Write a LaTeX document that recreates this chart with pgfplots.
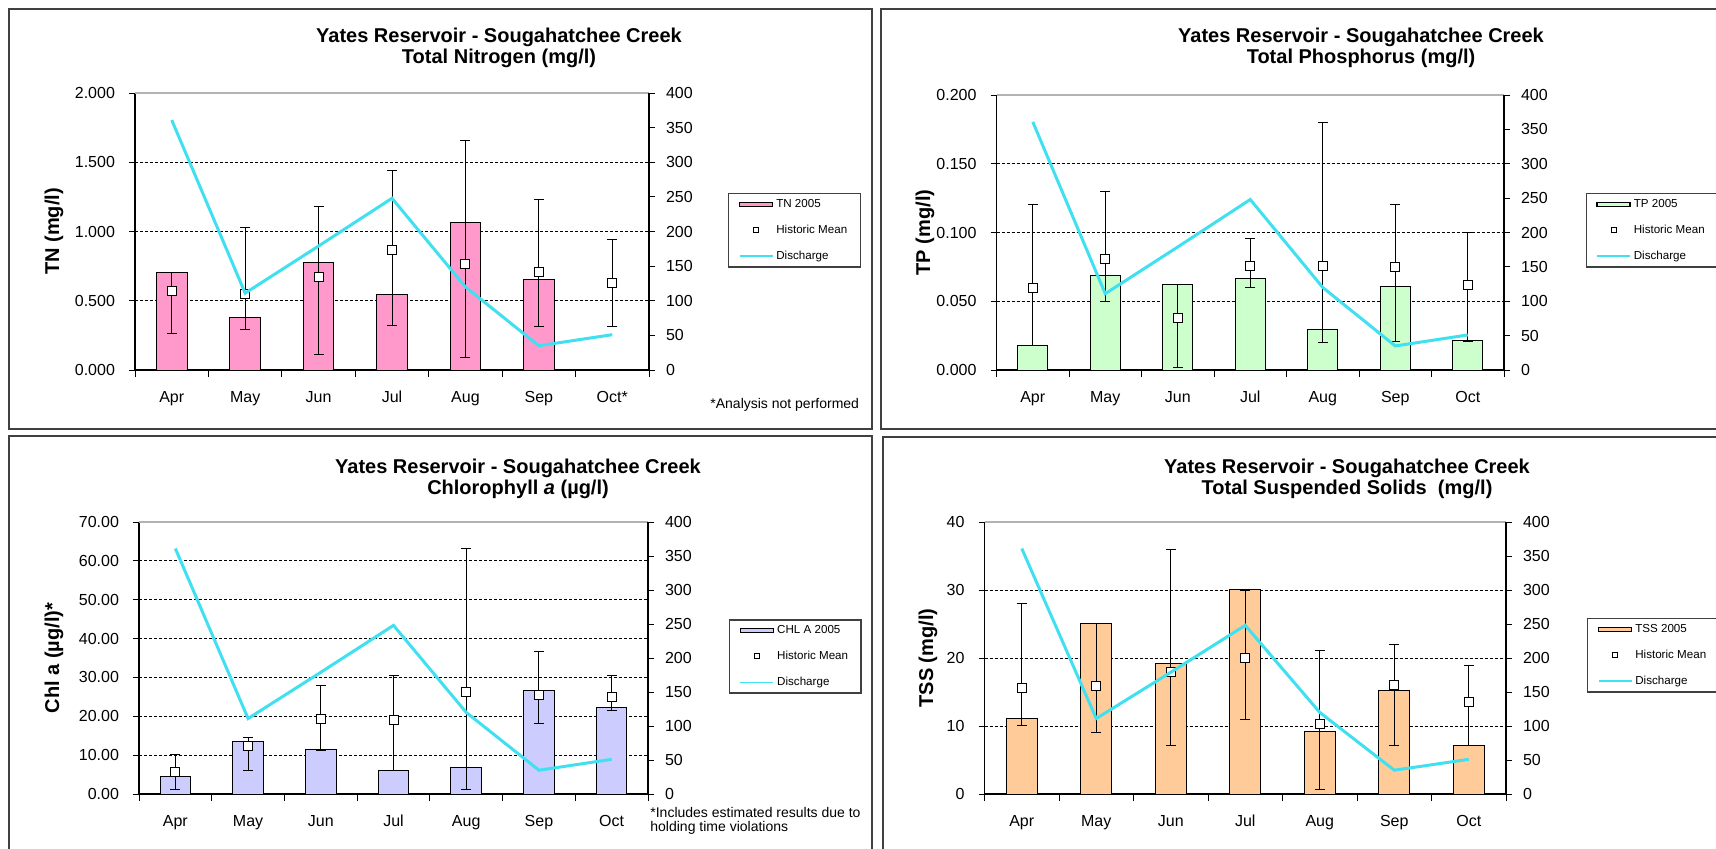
\documentclass[border=0pt]{standalone}
\usepackage{fontspec}
\setmainfont{Liberation Sans}
\usepackage{pgfplots}
\usepackage{pgfplotstable}
\pgfplotsset{compat=1.18}
\definecolor{tnc}{HTML}{FF99CC}
\definecolor{tpc}{HTML}{CCFFCC}
\definecolor{chc}{HTML}{CCCCFF}
\definecolor{tsc}{HTML}{FFCC99}
\definecolor{qc}{HTML}{40E0F0}
\definecolor{framec}{HTML}{404040}

% discharge (right axis), same for all panels
\pgfplotstableread{
x q
0 361
1 111
2 179
3 248
4 120
5 35
6 51
}\dis

% TN
\pgfplotstableread{
x v
0 0.706
1 0.376
2 0.773
3 0.547
4 1.065
5 0.651
}\tnbar
\pgfplotstableread{
x mean lo hi
0 0.569 0.265 0.706
1 0.549 0.292 1.026
2 0.672 0.113 1.178
3 0.867 0.318 1.441
4 0.769 0.092 1.658
5 0.711 0.311 1.234
6 0.631 0.311 0.942
}\tnmean

% TP
\pgfplotstableread{
x v
0 0.0179
1 0.0690
2 0.0623
3 0.0664
4 0.0293
5 0.0606
6 0.0216
}\tpbar
\pgfplotstableread{
x mean lo hi
0 0.0596 0.0179 0.1205
1 0.0810 0.0500 0.1297
2 0.0380 0.0017 0.0620
3 0.0760 0.0600 0.0958
4 0.0760 0.0200 0.1800
5 0.0750 0.0208 0.1205
6 0.0618 0.0210 0.0999
}\tpmean

% Chl a
\pgfplotstableread{
x v
0 4.45
1 13.43
2 11.38
3 6.08
4 6.76
5 26.53
6 22.16
}\chbar
\pgfplotstableread{
x mean lo hi
0 5.65 1.10 10.10
1 12.24 6.08 14.55
2 19.42 11.20 27.90
3 19.17 6.08 30.46
4 26.27 1.10 63.15
5 25.41 18.06 36.60
6 24.90 21.56 30.46
}\chmean

% TSS
\pgfplotstableread{
x v
0 11.10
1 25.10
2 19.20
3 30.07
4 9.24
5 15.16
6 7.14
}\tsbar
\pgfplotstableread{
x mean lo hi
0 15.65 10.02 27.97
1 15.94 9.05 25.10
2 17.90 7.09 36.00
3 20.00 10.90 30.00
4 10.27 0.64 21.10
5 16.00 7.09 22.05
6 13.50 7.14 18.97
}\tsmean

\pgfplotsset{
  leftax/.style={
    scale only axis, xmin=-0.5, xmax=6.5, ymin=0,
    axis x line*=bottom, axis y line*=left,
    xtick={0,...,6}, xticklabels={Apr,May,Jun,Jul,Aug,Sep,Oct},
    major x tick style={draw=none},
    minor xtick={-0.5,0.5,1.5,2.5,3.5,4.5,5.5,6.5},
    minor x tick style={black, line width=0.5pt},
    minor tick length=3.5pt, major tick length=3pt,
    tick align=outside,
    ymajorgrids, grid style={dash pattern=on 1.5pt off 1pt, black, line width=0.5pt},
    y tick style={black, line width=0.5pt},
    axis line style={black, line width=0.6pt},
    tick label style={font=\fontsize{8}{9.6}\selectfont},
    xticklabel style={yshift=-4pt},
    yticklabel style={xshift=-3.5pt},
    ylabel style={font=\bfseries\fontsize{10}{12}\selectfont, anchor=center},
    scaled y ticks=false,
    /pgf/number format/assume math mode=true,
    clip=false,
  },
  rightax/.style={
    scale only axis, xmin=-0.5, xmax=6.5, ymin=0, ymax=400,
    axis y line*=right, axis x line=none,
    ytick={0,50,100,150,200,250,300,350,400},
    tick align=outside, major tick length=3pt,
    y tick style={black, line width=0.5pt},
    axis line style={black, line width=0.6pt},
    tick label style={font=\fontsize{8}{9.6}\selectfont},
    yticklabel style={xshift=2pt},
    /pgf/number format/assume math mode=true,
    clip=false,
    legend cell align=left,
    legend style={anchor=north west, draw=framec, line width=0.7pt, fill=white,
      font=\fontsize{5.8}{7}\selectfont, inner xsep=5pt, inner ysep=2.6pt, row sep=7.45pt,
      nodes={inner ysep=0pt, inner xsep=1.5pt, text height=4.3pt, text depth=1.2pt}},
  },
  barst/.style={ybar, bar width=0.42, bar shift=0pt, draw=black, line width=0.5pt},
  errst/.style={only marks, mark=none,
    error bars/.cd, y dir=both, y explicit,
    error bar style={black, line width=0.5pt},
    error mark options={rotate=90, black, mark size=2.5pt, line width=0.5pt}},
  meanst/.style={only marks, mark=square*, mark size=2.25pt,
    mark options={fill=white, draw=black, line width=0.5pt}},
  qst/.style={qc, line width=1.5pt, mark=none,
    legend image code/.code={\draw[qc, line width=0.8pt] (0pt,0pt) -- (16.5pt,0pt);}},
}

\newcommand{\legbar}[1]{\addlegendimage{legend image code/.code={\draw[fill=#1, draw=black, line width=0.6pt] (0pt,-1.1pt) rectangle (16.5pt,1.1pt);}}}
\newcommand{\legmean}{\addlegendimage{legend image code/.code={\draw[fill=white, draw=black, line width=0.5pt] (7pt,-1.25pt) rectangle (9.5pt,1.25pt);}}}

\begin{document}
\begin{tikzpicture}
\useasboundingbox (0pt,0pt) rectangle (858pt,-424pt);
\clip (0pt,0pt) rectangle (858pt,-424pt);

% panel frames
\draw[framec, line width=1pt] (4.25pt,-4.5pt) rectangle (435.75pt,-214.5pt);
\draw[framec, line width=1pt] (440.5pt,-4.5pt) rectangle (875pt,-214.5pt);
\draw[framec, line width=1pt] (4.25pt,-218pt) rectangle (435.75pt,-435pt);
\draw[framec, line width=1pt] (441.5pt,-218.5pt) rectangle (875pt,-435pt);

% titles
\begin{scope}[every node/.style={font=\bfseries\fontsize{10}{12}\selectfont, anchor=base, inner sep=0pt}]
\node at (249.5pt,-21pt) {Yates Reservoir - Sougahatchee Creek};
\node at (249.5pt,-31.5pt) {Total Nitrogen (mg/l)};
\node at (680.5pt,-21pt) {Yates Reservoir - Sougahatchee Creek};
\node at (680.5pt,-31.5pt) {Total Phosphorus (mg/l)};
\node at (259pt,-236.5pt) {Yates Reservoir - Sougahatchee Creek};
\node at (259pt,-247pt) {Chlorophyll \textit{a} (µg/l)};
\node at (673.5pt,-236.5pt) {Yates Reservoir - Sougahatchee Creek};
\node at (673.5pt,-247pt) {Total Suspended Solids\ \ (mg/l)};
\end{scope}

% notes
\node[anchor=base west, inner sep=0pt, font=\fontsize{7}{8}\selectfont] at (355pt,-204pt) {*Analysis not performed};
\node[anchor=base west, inner sep=0pt, font=\fontsize{7}{8}\selectfont] at (325pt,-408.5pt) {*Includes estimated results due to};
\node[anchor=base west, inner sep=0pt, font=\fontsize{7}{8}\selectfont] at (325pt,-415.8pt) {holding time violations};

% ---------- TN ----------
\begin{axis}[leftax, at={(67.5pt,-46.5pt)}, anchor=north west, width=257pt, height=138.5pt,
  ymax=2, ytick={0,0.5,1,1.5,2},
  yticklabel style={/pgf/number format/fixed, /pgf/number format/fixed zerofill, /pgf/number format/precision=3},
  xticklabels={Apr,May,Jun,Jul,Aug,Sep,Oct*},
  ylabel={TN (mg/l)}, ylabel style={at={(axis description cs:-0.1576,0.5)}}]
\addplot[barst, fill=tnc] table[x=x, y=v] {\tnbar};
\draw[gray!60, line width=0.9pt] (rel axis cs:0,1) -- (rel axis cs:1,1);
\addplot[errst] table[x=x, y=mean, y error plus expr=\thisrow{hi}-\thisrow{mean}, y error minus expr=\thisrow{mean}-\thisrow{lo}] {\tnmean};
\addplot[meanst] table[x=x, y=mean] {\tnmean};
\end{axis}
\begin{axis}[rightax, at={(67.5pt,-46.5pt)}, anchor=north west, width=257pt, height=138.5pt,
  legend style={at={(1.1537,0.639)}}]
\legbar{tnc}\addlegendentry{TN 2005}
\legmean\addlegendentry{Historic Mean}
\addplot[qst] table[x=x, y=q] {\dis};
\addlegendentry{Discharge}
\end{axis}

% ---------- TP ----------
\begin{axis}[leftax, at={(498.25pt,-47.5pt)}, anchor=north west, width=253.75pt, height=137.5pt,
  ymax=0.2, ytick={0,0.05,0.1,0.15,0.2},
  yticklabel style={/pgf/number format/fixed, /pgf/number format/fixed zerofill, /pgf/number format/precision=3},
  ylabel={TP (mg/l)}, ylabel style={at={(axis description cs:-0.1409,0.5)}}]
\addplot[barst, fill=tpc] table[x=x, y=v] {\tpbar};
\draw[gray!60, line width=0.9pt] (rel axis cs:0,1) -- (rel axis cs:1,1);
\addplot[errst] table[x=x, y=mean, y error plus expr=\thisrow{hi}-\thisrow{mean}, y error minus expr=\thisrow{mean}-\thisrow{lo}] {\tpmean};
\addplot[meanst] table[x=x, y=mean] {\tpmean};
\end{axis}
\begin{axis}[rightax, at={(498.25pt,-47.5pt)}, anchor=north west, width=253.75pt, height=137.5pt,
  legend style={at={(1.1606,0.6436)}}]
\legbar{tpc}\addlegendentry{TP 2005}
\legmean\addlegendentry{Historic Mean}
\addplot[qst] table[x=x, y=q] {\dis};
\addlegendentry{Discharge}
\end{axis}

% ---------- Chl a ----------
\begin{axis}[leftax, at={(69.5pt,-261pt)}, anchor=north west, width=254.5pt, height=136pt,
  ymax=70, ytick={0,10,20,30,40,50,60,70},
  yticklabel style={/pgf/number format/fixed, /pgf/number format/fixed zerofill, /pgf/number format/precision=2},
  ylabel={Chl a (µg/l)*}, ylabel style={at={(axis description cs:-0.167,0.5)}}]
\addplot[barst, fill=chc] table[x=x, y=v] {\chbar};
\draw[gray!60, line width=0.9pt] (rel axis cs:0,1) -- (rel axis cs:1,1);
\addplot[errst] table[x=x, y=mean, y error plus expr=\thisrow{hi}-\thisrow{mean}, y error minus expr=\thisrow{mean}-\thisrow{lo}] {\chmean};
\addplot[meanst] table[x=x, y=mean] {\chmean};
\end{axis}
\begin{axis}[rightax, at={(69.5pt,-261pt)}, anchor=north west, width=254.5pt, height=136pt,
  legend style={at={(1.159,0.643)}}]
\legbar{chc}\addlegendentry{CHL A 2005}
\legmean\addlegendentry{Historic Mean}
\addplot[qst] table[x=x, y=q] {\dis};
\addlegendentry{Discharge}
\end{axis}

% ---------- TSS ----------
\begin{axis}[leftax, at={(492.25pt,-261pt)}, anchor=north west, width=260.75pt, height=136pt,
  ymax=40, ytick={0,10,20,30,40},
  ylabel={TSS (mg/l)}, ylabel style={at={(axis description cs:-0.1083,0.5)}}]
\addplot[barst, fill=tsc] table[x=x, y=v] {\tsbar};
\draw[gray!60, line width=0.9pt] (rel axis cs:0,1) -- (rel axis cs:1,1);
\addplot[errst] table[x=x, y=mean, y error plus expr=\thisrow{hi}-\thisrow{mean}, y error minus expr=\thisrow{mean}-\thisrow{lo}] {\tsmean};
\addplot[meanst] table[x=x, y=mean] {\tsmean};
\end{axis}
\begin{axis}[rightax, at={(492.25pt,-261pt)}, anchor=north west, width=260.75pt, height=136pt,
  legend style={at={(1.1553,0.647)}}]
\legbar{tsc}\addlegendentry{TSS 2005}
\legmean\addlegendentry{Historic Mean}
\addplot[qst] table[x=x, y=q] {\dis};
\addlegendentry{Discharge}
\end{axis}
\end{tikzpicture}
\end{document}
